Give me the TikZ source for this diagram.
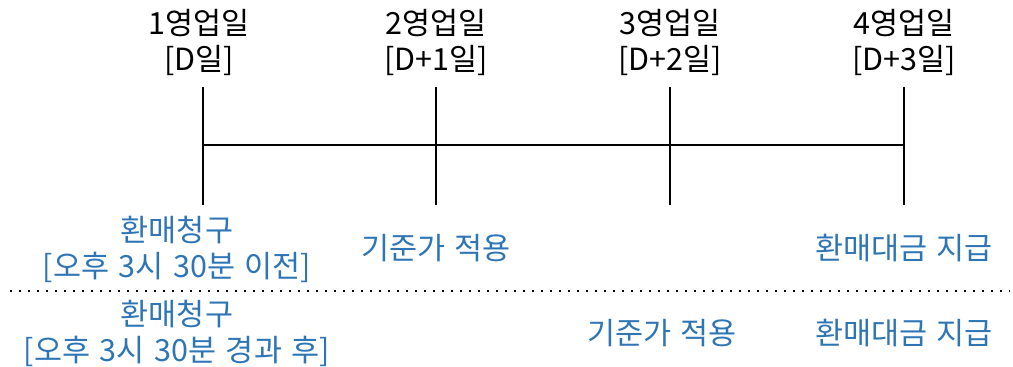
\documentclass[tikz,border=0pt]{standalone}
\usepackage{fontspec}
\newfontfamily\kr[WordSpace={1.4}]{Noto Sans CJK KR}
\definecolor{lblue}{HTML}{2E75B6}
\begin{document}
\begin{tikzpicture}[x=1pt,y=-1pt,
  lbl/.style={font=\kr\fontsize{30.5}{36}\selectfont, inner sep=0pt, align=center, anchor=center},
  blu/.style={lbl, text=lblue},
  tl/.style={line width=1.8pt, black},
  sep/.style={line width=2pt, dash pattern=on 2pt off 7pt, black}]
\useasboundingbox (0,0) rectangle (1013,367);
\foreach \n/\x in {1/203,2/436,3/670,4/904}{
  \coordinate (t\n) at (\x,87);
  \coordinate (b\n) at (\x,205);
  \coordinate (m\n) at (\x,145);
  \draw[tl] (t\n) -- (b\n);
}
\draw[tl] (m1) -- (m4);
\node[lbl] (d1) at (199,42) {1영업일\\{}[D일]};
\node[lbl] (d2) at (436,42) {2영업일\\{}[D+1일]};
\node[lbl] (d3) at (670,42) {3영업일\\{}[D+2일]};
\node[lbl] (d4) at (904,42) {4영업일\\{}[D+3일]};
\node[blu] (a1) at (177,249) {환매청구\\{}[오후 3시 30분 이전]};
\node[blu] (a2) at (436,248) {기준가 적용};
\node[blu] (a3) at (904,248) {환매대금 지급};
\coordinate (s1) at (10,291);
\coordinate (s2) at (1010,291);
\draw[sep] (s1) -- (s2);
\node[blu] (c1) at (177,333) {환매청구\\{}[오후 3시 30분 경과 후]};
\node[blu] (c2) at (662,333) {기준가 적용};
\node[blu] (c3) at (904,333) {환매대금 지급};
\end{tikzpicture}
\end{document}
